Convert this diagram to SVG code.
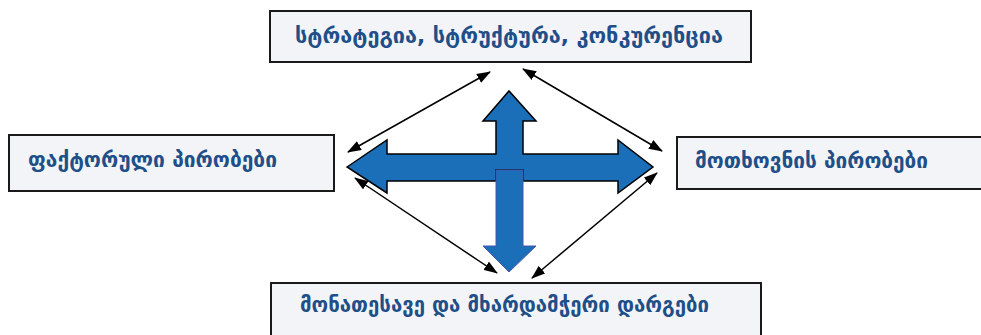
<svg xmlns="http://www.w3.org/2000/svg" width="981" height="335" viewBox="0 0 981 335">
<defs>
<style>
.box{fill:#f3f4f7;stroke:#1a1a1a;stroke-width:2}
.lbl{font-family:"DejaVu Sans","Noto Sans",sans-serif;font-size:21px;font-weight:bold;fill:#1f4f88}
.con{stroke:#000;stroke-width:1.5;fill:none;marker-start:url(#ah);marker-end:url(#ah)}
.big{fill:#1b6fb8;stroke:#000;stroke-width:1.5}
</style>
<marker id="ah" viewBox="0 0 14 10" refX="13" refY="5" markerWidth="14" markerHeight="10" markerUnits="userSpaceOnUse" orient="auto-start-reverse">
<path d="M0,0 L14,5 L0,10 Z" fill="#000"/>
</marker>
</defs>
<rect width="981" height="335" fill="#fff"/>
<g id="top">
<rect class="box" x="270" y="11" width="481" height="51"/>
<text class="lbl" x="295" y="43" textLength="428" lengthAdjust="spacingAndGlyphs">სტრატეგია, სტრუქტურა, კონკურენცია</text>
</g>
<g id="left">
<rect class="box" x="9" y="135" width="325" height="56"/>
<text class="lbl" x="28" y="167" textLength="249" lengthAdjust="spacingAndGlyphs">ფაქტორული პირობები</text>
</g>
<g id="right">
<rect class="box" x="677" y="137" width="320" height="52"/>
<text class="lbl" x="695" y="168" textLength="233" lengthAdjust="spacingAndGlyphs">მოთხოვნის პირობები</text>
</g>
<g id="bottom">
<rect class="box" x="271" y="283" width="490" height="70"/>
<text class="lbl" x="300" y="312" textLength="409" lengthAdjust="spacingAndGlyphs">მონათესავე და მხარდამჭერი დარგები</text>
</g>
<g id="cross">
<path class="big" d="M347,167 L387,140 L387,154 L496,154 L496,121 L483,121 L509,91 L536,121 L523,121 L523,154 L618,154 L618,140 L653,167 L618,193 L618,181 L523,181 L523,170 L496,170 L496,181 L387,181 L387,193 Z"/>
<path d="M496,170 L523,170 L523,246 L536,246 L509,272 L483,246 L496,246 Z" fill="#1b6fb8" stroke="#4a55b0" stroke-width="1"/>
</g>
<g id="connectors">
<line class="con" x1="348" y1="152" x2="490" y2="72"/>
<line class="con" x1="523" y1="69" x2="662" y2="151"/>
<line class="con" x1="355" y1="178" x2="497" y2="273"/>
<line class="con" x1="657" y1="173" x2="532" y2="278"/>
</g>
</svg>
